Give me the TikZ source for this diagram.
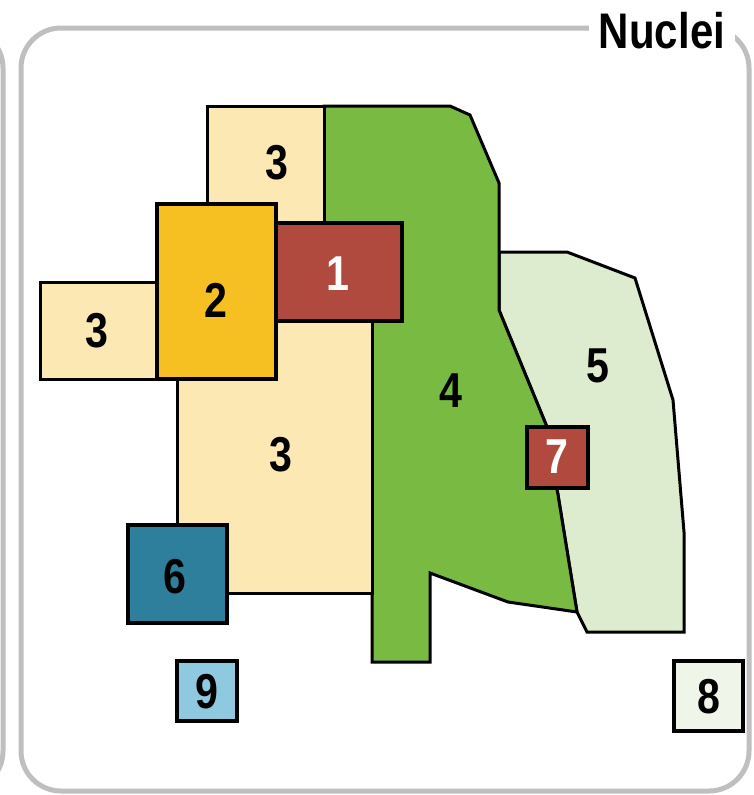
\documentclass[tikz,border=0pt]{standalone}
\usepackage{fontspec}
\newfontfamily\numfont[FakeStretch=0.84]{Liberation Sans}
\definecolor{framegray}{HTML}{BFBFBF}
\definecolor{beigeA}{HTML}{FCE8B2}
\definecolor{goldB}{HTML}{F7C022}
\definecolor{brickC}{HTML}{B04A3E}
\definecolor{grassD}{HTML}{79BA43}
\definecolor{mintE}{HTML}{DDEBCF}
\definecolor{tealF}{HTML}{2E7F9C}
\definecolor{skyG}{HTML}{8FC9E0}
\definecolor{paleH}{HTML}{EFF5E9}

\begin{document}
\begin{tikzpicture}[
    x=1pt, y=-1pt,
    panel/.style={draw=framegray, line width=5pt, rounded corners=40pt},
    zone/.style={draw=black, line width=3pt, line join=miter},
    box/.style={zone, line width=3.5pt},
    num/.style={inner sep=0pt, font=\numfont\bfseries\fontsize{49}{49}\selectfont},
    wnum/.style={num, text=white}
  ]
    \useasboundingbox (0,0) rectangle (753,795);
    \clip (0,0) rectangle (753,795);
    % panels
    \draw[panel] (-200,28) rectangle (3,791);
    \draw[panel] (21,28) rectangle (749,791);
    \node[num, fill=white, inner xsep=10pt, font=\numfont\bfseries\fontsize{50}{50}\selectfont] (title) at (662,31) {Nuclei};
    % large regions
    \draw[zone, fill=mintE] (499,252) -- (567,252) -- (635,278) -- (673,400) -- (684,532)
        -- (684,632) -- (587,632) -- (577,612) -- (547,427) -- (499,310) -- cycle;
    \draw[zone, fill=grassD] (324,106) -- (450,106) -- (470,115) -- (499,183) -- (499,310)
        -- (547,427) -- (577,612) -- (508,602) -- (430,573) -- (430,662) -- (372,662)
        -- (372,300) -- (324,300) -- cycle;
    \draw[zone, fill=beigeA] (207,106) rectangle (324,240);
    \draw[zone, fill=beigeA] (177,300) rectangle (372,593);
    \draw[zone, fill=beigeA] (40,282) rectangle (157,379);
    % small boxes
    \draw[box, fill=goldB] (157,204) rectangle (276,379);
    \draw[box, fill=brickC] (276,223) rectangle (402,321);
    \draw[box, fill=tealF] (128,525) rectangle (227,623);
    \draw[box, fill=brickC] (527,427) rectangle (588,488);
    \draw[box, fill=skyG] (177,661) rectangle (237,721);
    \draw[box, fill=paleH] (674,661) rectangle (743,731);
    % labels
    \node[wnum] (n1) at (338,274) {1};
    \node[num] (n2) at (216,300) {2};
    \node[num] (n3a) at (277,163) {3};
    \node[num] (n3b) at (97,331) {3};
    \node[num] (n3c) at (281,455) {3};
    \node[num] (n4) at (451,391) {4};
    \node[num] (n5) at (598,366) {5};
    \node[num] (n6) at (175,577) {6};
    \node[wnum] (n7) at (557,457) {7};
    \node[num] (n8) at (709,697) {8};
    \node[num] (n9) at (207,692) {9};
  \end{tikzpicture}
\end{document}
